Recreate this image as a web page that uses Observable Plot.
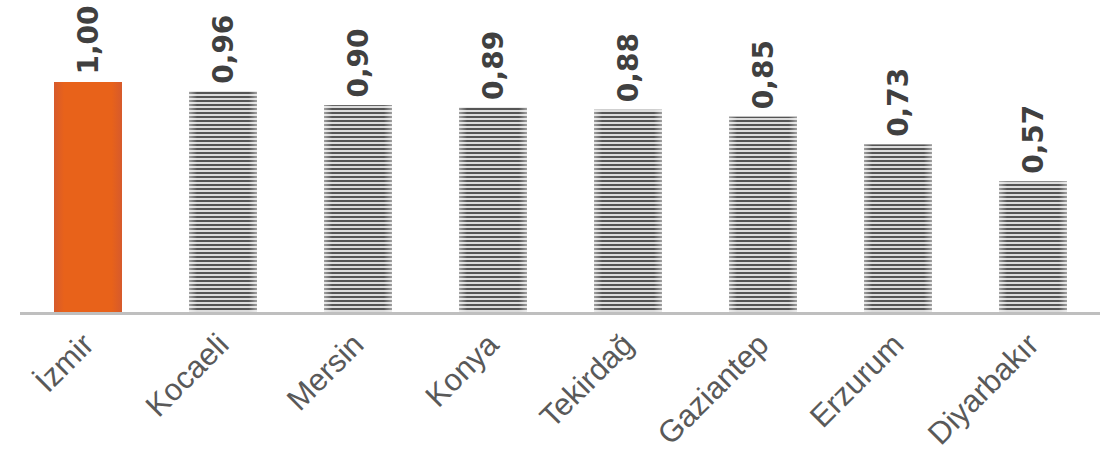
<!DOCTYPE html>
<html><head><meta charset="utf-8">
<script src="https://cdn.jsdelivr.net/npm/d3@7"></script>
<script src="https://cdn.jsdelivr.net/npm/@observablehq/plot@0.6"></script>
<style>body{margin:0;background:#fff} svg{display:block}</style>
</head><body><div id="chart"></div>
<script>
const cities = ["İzmir", "Kocaeli", "Mersin", "Konya", "Tekirdağ", "Gaziantep", "Erzurum", "Diyarbakır"];
const values = [1.00, 0.96, 0.90, 0.89, 0.88, 0.85, 0.73, 0.57];
const highlight = "İzmir";

const data = cities.map((c, i) => ({city: c, value: values[i]}));
const fmt = v => d3.format(".2f")(v).replace(".", ",");

const chart = Plot.plot({
  width: 1107, height: 454,
  marginLeft: 20, marginRight: 7, marginTop: 82, marginBottom: 141,
  style: {fontFamily: "'Liberation Sans', Arial, sans-serif", background: "#fff"},
  x: {domain: cities, paddingInner: 0.5, paddingOuter: 0.25, axis: null},
  y: {domain: [0, 1], axis: null},
  marks: [
    Plot.barY(data.filter(d => d.city === highlight), {x: "city", y: "value", fill: "url(#orangeGrad)"}),
    Plot.barY(data.filter(d => d.city !== highlight), {x: "city", y: "value", fill: "url(#stripes)"}),
    Plot.barY(data.filter(d => d.city !== highlight), {x: "city", y: "value", fill: "url(#edgeGlow)"}),
    Plot.ruleY([0], {stroke: "#BFBFBF", strokeWidth: 3}),
    Plot.text(data, {x: "city", y: "value", text: d => fmt(d.value), rotate: -90, textAnchor: "start", lineAnchor: "middle", dy: -8, dx: 1, fontSize: 28, fontWeight: "bold", fontFamily: "'DejaVu Sans', sans-serif", fill: "#404040"}),
    Plot.text(data, {x: "city", y: 0, text: "city", rotate: -45, textAnchor: "end", lineAnchor: "middle", dy: 26, dx: 0, fontSize: 31, fill: "#595959"})
  ]
});

const ns = "http://www.w3.org/2000/svg";
const defs = document.createElementNS(ns, "defs");
defs.innerHTML = `
  <pattern id="stripes" patternUnits="userSpaceOnUse" x="0" y="0" width="8" height="4">
    <rect width="8" height="4" fill="#dcdcdc"/>
    <rect width="8" height="2" fill="#555555"/>
  </pattern>
  <linearGradient id="edgeGlow" x1="0" x2="1" y1="0" y2="0">
    <stop offset="0" stop-color="#ffffff" stop-opacity="0.45"/>
    <stop offset="0.12" stop-color="#ffffff" stop-opacity="0"/>
    <stop offset="0.88" stop-color="#ffffff" stop-opacity="0"/>
    <stop offset="1" stop-color="#ffffff" stop-opacity="0.45"/>
  </linearGradient>
  <linearGradient id="orangeGrad" x1="0" x2="1" y1="0" y2="0">
    <stop offset="0" stop-color="#D65A2C"/>
    <stop offset="0.15" stop-color="#E8621A"/>
    <stop offset="0.85" stop-color="#E8621A"/>
    <stop offset="1" stop-color="#D65A2C"/>
  </linearGradient>`;
chart.insertBefore(defs, chart.firstChild);
document.getElementById("chart").appendChild(chart);
</script>
</body></html>
